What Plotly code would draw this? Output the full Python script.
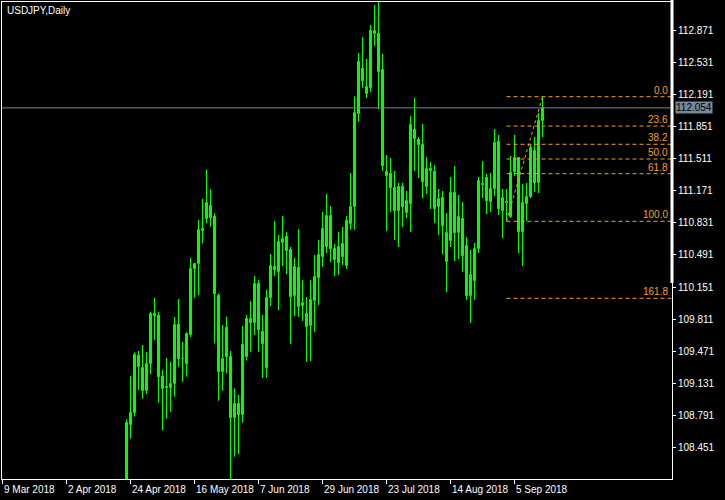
import pandas as pd
import plotly.graph_objects as go

# ---------------- data ----------------
chart_title = "USDJPY,Daily"

# trading-day slots shown on the time axis (chart starts at 9 Mar 2018)
axis_dates = [d.strftime("%Y-%m-%d") for d in pd.bdate_range("2018-03-09", "2018-09-14")]

# candles visible inside the price window
candle_dates = [d.strftime("%Y-%m-%d") for d in pd.bdate_range("2018-04-23", "2018-09-14")]

opens = [107.650, 108.684, 108.809, 109.414, 109.287, 109.049, 109.336, 109.860, 109.843, 109.191,
         109.090, 109.081, 109.117, 109.744, 109.382, 109.329, 109.644, 110.339, 110.392, 110.746,
         110.870, 111.011, 110.894, 110.055, 109.244, 109.720, 109.404, 108.756, 108.904, 108.791,
         109.410, 109.807, 109.765, 110.179, 109.676, 109.287, 110.031, 110.360, 110.313, 110.615,
         110.685, 110.544, 110.058, 110.349, 109.952, 109.864, 109.739, 110.005, 110.249, 110.473,
         110.579, 110.905, 110.551, 110.402, 110.604, 110.377, 110.817, 111.004, 111.986, 112.467,
         112.204, 112.268, 112.842, 112.836, 112.453, 111.373, 111.351, 111.199, 110.961, 111.210,
         110.934, 111.029, 111.816, 111.709, 111.656, 111.216, 111.401, 111.369, 110.997, 111.093,
         110.419, 110.643, 111.146, 110.728, 110.870, 110.586, 110.058, 110.218, 110.558, 111.245,
         111.306, 111.051, 111.189, 111.688, 110.961, 111.050, 110.898, 111.369, 111.518, 110.738,
         111.029, 111.104, 111.599, 111.259, 111.918]
highs = [108.745, 109.205, 109.457, 109.471, 109.534, 109.460, 109.885, 110.034, 109.885, 109.269,
         109.396, 109.354, 109.832, 110.023, 109.566, 109.669, 110.459, 110.406, 110.863, 111.086,
         111.400, 111.192, 110.934, 110.084, 109.747, 109.835, 109.471, 109.074, 109.003, 109.736,
         109.853, 110.002, 110.268, 110.225, 109.853, 110.119, 110.501, 110.852, 110.703, 110.905,
         110.735, 110.576, 110.459, 110.767, 110.225, 110.044, 110.225, 110.491, 110.650, 110.948,
         111.139, 111.011, 110.608, 110.735, 110.788, 110.905, 111.362, 112.177, 112.637, 112.807,
         112.573, 112.934, 113.147, 113.180, 112.626, 111.553, 111.521, 111.383, 111.256, 111.256,
         111.171, 111.968, 112.159, 111.744, 111.883, 111.532, 111.479, 111.447, 111.192, 111.171,
         110.937, 111.319, 111.436, 111.128, 111.054, 110.682, 110.544, 110.618, 111.319, 111.489,
         111.351, 111.362, 111.829, 111.766, 111.192, 111.192, 111.543, 111.766, 111.532, 111.245,
         111.256, 111.659, 111.744, 111.999, 112.173]
lows = [107.500, 108.539, 108.773, 109.056, 108.964, 109.014, 109.226, 109.588, 108.921, 108.631,
        108.751, 108.823, 108.985, 109.304, 109.144, 109.198, 109.620, 110.037, 110.066, 110.615,
        110.827, 110.791, 109.552, 108.943, 109.049, 109.234, 108.100, 108.348, 108.376, 108.709,
        109.368, 109.463, 109.641, 109.463, 109.184, 109.187, 109.949, 110.268, 109.906, 110.374,
        110.289, 109.545, 109.843, 109.832, 109.789, 109.354, 109.364, 109.673, 109.959, 110.363,
        110.512, 110.416, 110.268, 110.278, 110.384, 110.342, 110.759, 110.759, 111.907, 112.268,
        112.159, 112.223, 112.714, 112.042, 111.383, 110.746, 110.948, 110.650, 110.576, 110.788,
        110.884, 110.735, 111.383, 111.309, 111.096, 111.139, 110.979, 110.831, 110.703, 110.501,
        110.098, 110.576, 110.427, 110.448, 110.313, 110.013, 109.768, 110.013, 110.512, 111.096,
        110.926, 110.948, 111.118, 110.916, 110.671, 110.849, 110.885, 111.330, 110.512, 110.374,
        110.852, 111.096, 111.160, 111.149, 111.744]
closes = [108.702, 108.809, 109.425, 109.297, 109.049, 109.329, 109.864, 109.840, 109.191, 109.070,
          109.080, 109.120, 109.747, 109.382, 109.384, 109.648, 110.342, 110.395, 110.756, 110.764,
          111.040, 110.887, 110.073, 109.244, 109.386, 109.407, 108.756, 108.904, 108.791, 109.534,
          109.807, 109.771, 110.179, 109.694, 109.542, 110.031, 110.374, 110.328, 110.626, 110.657,
          110.536, 110.048, 110.360, 109.941, 109.981, 109.729, 110.013, 110.254, 110.487, 110.764,
          110.902, 110.554, 110.434, 110.579, 110.466, 110.852, 110.997, 111.996, 112.538, 112.343,
          112.272, 112.871, 112.867, 112.438, 111.439, 111.333, 111.199, 110.961, 111.216, 111.004,
          111.061, 111.869, 111.720, 111.656, 111.269, 111.401, 111.380, 110.976, 111.082, 110.802,
          110.721, 111.146, 110.728, 110.891, 110.483, 110.058, 110.275, 110.551, 111.277, 111.235,
          111.068, 111.192, 111.677, 110.976, 111.093, 111.040, 111.359, 111.524, 110.738, 111.040,
          111.104, 111.624, 111.252, 111.918, 112.054]

date_tick_dates = ["2018-03-09", "2018-04-02", "2018-04-24", "2018-05-16", "2018-06-07",
                   "2018-06-29", "2018-07-23", "2018-08-14", "2018-09-05"]
date_tick_labels = ["9 Mar 2018", "2 Apr 2018", "24 Apr 2018", "16 May 2018", "7 Jun 2018",
                    "29 Jun 2018", "23 Jul 2018", "14 Aug 2018", "5 Sep 2018"]

price_ticks = [108.451, 108.791, 109.131, 109.471, 109.811, 110.151, 110.491,
               110.831, 111.171, 111.511, 111.851, 112.191, 112.531, 112.871]

bid_price = 112.054

fib_low_date, fib_low_price = "2018-09-03", 110.849
fib_high_date, fib_high_price = "2018-09-14", 112.173
fib_levels = [0.0, 23.6, 38.2, 50.0, 61.8, 100.0, 161.8]

# ---------------- style ----------------
GREEN = "#00FF00"
FIB = "#F0A030"
BIDC = "#778899"
FONT = "Liberation Sans Narrow, Liberation Sans, Arial, sans-serif"
X_RANGE = [-0.125, 167.375]
Y_RANGE = [108.111, 113.179]

fig = go.Figure()

# wicks
wx, wy = [], []
for d, h, l in zip(candle_dates, highs, lows):
    wx += [d, d, None]
    wy += [l, h, None]
fig.add_trace(go.Scatter(x=wx, y=wy, mode="lines", line=dict(color=GREEN, width=1),
                         hoverinfo="skip", showlegend=False))

# bodies
base = [min(o, c) for o, c in zip(opens, closes)]
size = [max(abs(c - o), 0.004) for o, c in zip(opens, closes)]
fill = ["black" if c >= o else "white" for o, c in zip(opens, closes)]
fig.add_trace(go.Bar(x=candle_dates, y=size, base=base, width=0.5,
                     marker=dict(color=fill, line=dict(color=GREEN, width=1)),
                     hoverinfo="skip", showlegend=False))

shapes = []
annotations = []

# bid line
shapes.append(dict(type="line", xref="paper", x0=0, x1=1, yref="y", y0=bid_price, y1=bid_price,
                   line=dict(color=BIDC, width=1)))

# fibonacci retracement
i_low = axis_dates.index(fib_low_date)
i_high = axis_dates.index(fib_high_date)
rng = fib_high_price - fib_low_price
for lv in fib_levels:
    p = fib_high_price - lv / 100.0 * rng
    shapes.append(dict(type="line", xref="x", x0=i_low, x1=X_RANGE[1], yref="y", y0=p, y1=p,
                       line=dict(color=FIB, width=1, dash="4px,3px")))
    annotations.append(dict(xref="paper", x=1, xanchor="right", xshift=-2,
                            yref="y", y=p, yanchor="bottom", yshift=-1,
                            text=f"{lv:.1f}", showarrow=False,
                            font=dict(family=FONT, size=10, color=FIB)))
shapes.append(dict(type="line", xref="x", x0=i_low, x1=i_high, yref="y",
                   y0=fib_low_price, y1=fib_high_price,
                   line=dict(color=FIB, width=1, dash="3px,3px")))

# right-side white marker
shapes.append(dict(type="line", xref="paper", x0=1, x1=1, yref="paper", y0=0.411, y1=1.005,
                   line=dict(color="white", width=3)))

# bid price label
annotations.append(dict(xref="paper", x=1, xanchor="left", xshift=3, yref="y", y=bid_price,
                        yanchor="middle", text=f"{bid_price:.3f}", showarrow=False,
                        bgcolor=BIDC, borderpad=0,
                        font=dict(family=FONT, size=10, color="black")))

# date labels (left aligned after tick)
for d, t in zip(date_tick_dates, date_tick_labels):
    annotations.append(dict(xref="x", x=d, xanchor="left", xshift=-1, yref="paper", y=0,
                            yanchor="top", yshift=-3, text=t, showarrow=False,
                            font=dict(family=FONT, size=10, color="white")))

# title
annotations.append(dict(xref="paper", x=0, xanchor="left", xshift=3, yref="paper", y=1,
                        yanchor="top", yshift=-1, text=chart_title, showarrow=False,
                        font=dict(family=FONT, size=10, color="white")))

fig.update_layout(
    width=725, height=500, autosize=False,
    paper_bgcolor="black", plot_bgcolor="black",
    margin=dict(l=2, r=53, t=2, b=21),
    barmode="overlay", bargap=0, showlegend=False,
    font=dict(family=FONT, size=10, color="white"),
    shapes=shapes, annotations=annotations,
    xaxis=dict(type="category", categoryorder="array", categoryarray=axis_dates,
               range=X_RANGE, showgrid=False, zeroline=False,
               showline=True, mirror=True, linecolor="white", linewidth=1,
               tickmode="array", tickvals=date_tick_dates, ticktext=[""] * len(date_tick_dates),
               ticks="outside", ticklen=4, tickcolor="white", tickwidth=1,
               showticklabels=False, fixedrange=True),
    yaxis=dict(side="right", range=Y_RANGE, showgrid=False, zeroline=False,
               showline=True, mirror=True, linecolor="white", linewidth=1,
               tickmode="array", tickvals=price_ticks,
               ticktext=[f"{v:.3f}" for v in price_ticks],
               ticks="outside", ticklen=3, tickcolor="white", tickwidth=1,
               tickfont=dict(family=FONT, size=10, color="white"), fixedrange=True),
)

fig.write_html("out.html", config={"displayModeBar": False},
               post_script="document.body.style.margin='0';document.body.style.background='black';")
